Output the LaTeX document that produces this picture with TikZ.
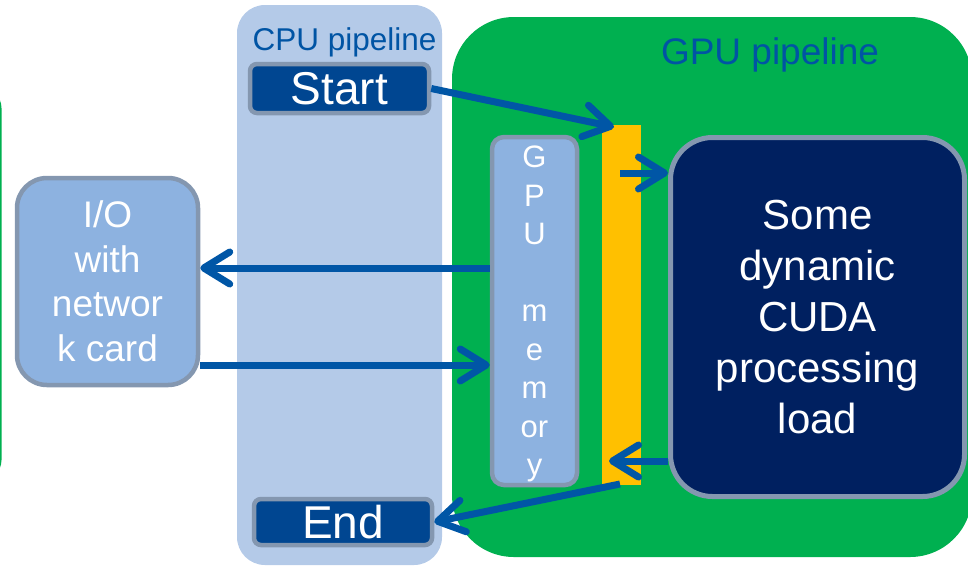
\documentclass[tikz,border=0pt]{standalone}
\usepackage{fontspec}
\setmainfont{Liberation Sans}
\usetikzlibrary{arrows.meta,calc}
\definecolor{cpubg}{RGB}{180,202,232}
\definecolor{gpugreen}{RGB}{0,176,80}
\definecolor{baryellow}{RGB}{255,192,0}
\definecolor{cudafill}{RGB}{0,32,96}
\definecolor{startblue}{RGB}{0,70,145}
\definecolor{bordergray}{RGB}{132,151,176}
\definecolor{iofill}{RGB}{141,178,224}
\definecolor{titleblue}{RGB}{0,84,164}
\definecolor{arrowblue}{RGB}{0,86,166}
\begin{document}
\begin{tikzpicture}[x=1pt,y=-1pt,
  arr/.style={draw=arrowblue, line width=7pt, -{Straight Barb[length=26pt,width=32pt,round]}},
  box/.style={draw=bordergray, line width=4.5pt, text=white, inner sep=0pt, align=center},
  title/.style={text=titleblue, inner sep=0pt, anchor=base}]
\useasboundingbox (0,0) rectangle (968,566);
\clip (0,0) rectangle (968,566);
% partial green shape at left edge
\fill[gpugreen, rounded corners=20pt] (-60,88) rectangle (1.5,480);
% CPU pipeline lane
\node[fill=cpubg, rounded corners=28pt, minimum width=205pt, minimum height=560pt, inner sep=0pt] (cpu) at (339.5,285) {};
\node[title, font=\fontsize{31.5}{38}\selectfont] (cputitle) at (344.5,50) {CPU pipeline};
% GPU pipeline area
\node[fill=gpugreen, rounded corners=62pt, minimum width=520pt, minimum height=540pt, inner sep=0pt] (gpu) at (712,287) {};
\node[title, font=\fontsize{37}{44}\selectfont] (gputitle) at (770,64) {GPU pipeline};
% Start / End
\node[box, fill=startblue, rounded corners=7pt, minimum width=179pt, minimum height=49pt, font=\fontsize{46}{54}\selectfont] (start) at (339.5,88.5) {Start};
\node[box, fill=startblue, rounded corners=7pt, minimum width=178pt, minimum height=46pt, font=\fontsize{46}{54}\selectfont] (end) at (343,522) {End};
% I/O box
\node[box, fill=iofill, rounded corners=30pt, minimum width=181pt, minimum height=207pt, font=\fontsize{37}{44.5}\selectfont] (io) at (107.5,281.5) {I/O\\with\\networ\\k card};
% GPU memory
\node[box, fill=iofill, rounded corners=12pt, minimum width=85pt, minimum height=348pt, text depth=0pt, font=\fontsize{31}{38.5}\selectfont] (gpumem) at (534.5,311) {G\\P\\U\\{}\\m\\e\\m\\or\\y};
% yellow bar
\node[fill=baryellow, minimum width=39pt, minimum height=360pt, inner sep=0pt] (bar) at (621.5,305) {};
% CUDA box
\node[draw=bordergray, line width=5pt, fill=cudafill, text=white, inner sep=0pt, align=center, rounded corners=42pt, minimum width=294pt, minimum height=359pt, font=\fontsize{42}{51}\selectfont] (cuda) at (817.5,317) {Some\\dynamic\\CUDA\\processing\\load};
% connector points on the bar
\coordinate (b1) at (614,127);
\coordinate (b2) at (620,173);
\coordinate (b3) at (609,461);
\coordinate (b4) at (620,484);
\coordinate (m1) at (0,268);
\coordinate (m2) at (0,365);
% arrows
\draw[arr] (start.east) -- (b1);
\draw[arr] (b2) -- (b2 -| cuda.west);
\draw[arr] (b3 -| cuda.west) -- (b3);
\draw[arr] (b4) -- (end.east);
\draw[arr] (m1 -| gpumem.west) -- (m1 -| io.east);
\draw[arr] (m2 -| io.east) -- (m2 -| gpumem.west);
\end{tikzpicture}
\end{document}
